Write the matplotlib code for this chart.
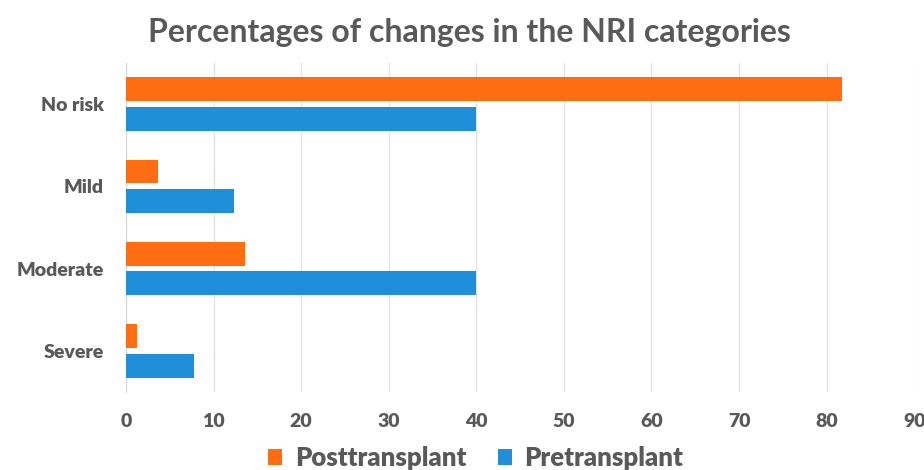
import matplotlib.pyplot as plt
import numpy as np

# Kategorien und Werte (in %)
categories = ["No risk", "Mild", "Moderate", "Severe"]
post = [81.8, 3.7, 13.6, 1.3]
pre = [40.0, 12.3, 40.0, 7.8]
xticks = [0, 10, 20, 30, 40, 50, 60, 70, 80, 90]

plt.rcParams['font.family'] = ['Lato', 'DejaVu Sans']
grey = '#595959'

fig = plt.figure(figsize=(9.24, 4.70), dpi=100)
ax = fig.add_axes([0.1364, 0.166, 0.853, 0.70])

y = np.arange(len(categories))
h = 0.29
ax.barh(y - 0.18, post, height=h, color='#FF6D13', label='Posttransplant', zorder=3)
ax.barh(y + 0.18, pre, height=h, color='#1F8FD9', label='Pretransplant', zorder=3)

ax.set_ylim(3.5, -0.5)
ax.set_xlim(0, 90)
ax.set_xticks(xticks)
ax.set_yticks(y)
ax.set_yticklabels(categories)
ax.grid(axis='x', color='#E3E3E3', linewidth=1, zorder=0)
for s in ['top', 'right', 'bottom']:
    ax.spines[s].set_visible(False)
ax.spines['left'].set_color('#D9D9D9')
ax.tick_params(axis='both', length=0, colors=grey, labelsize=14)
ax.tick_params(axis='x', pad=15)
ax.tick_params(axis='y', pad=16)
for t in ax.get_xticklabels() + ax.get_yticklabels():
    t.set_fontweight('heavy')

fig.text(0.508, 0.93, "Percentages of changes in the NRI categories", ha='center', va='center',
         fontsize=23, fontweight='bold', color=grey)

leg = fig.legend(loc='center', bbox_to_anchor=(0.515, 0.025), ncol=2, frameon=False,
                 prop={'size': 18.5, 'weight': 'heavy'}, handlelength=0.55, handleheight=0.55,
                 handletextpad=0.5, columnspacing=1.2)
for t in leg.get_texts():
    t.set_color(grey)

fig.savefig('out.png', dpi=100)
